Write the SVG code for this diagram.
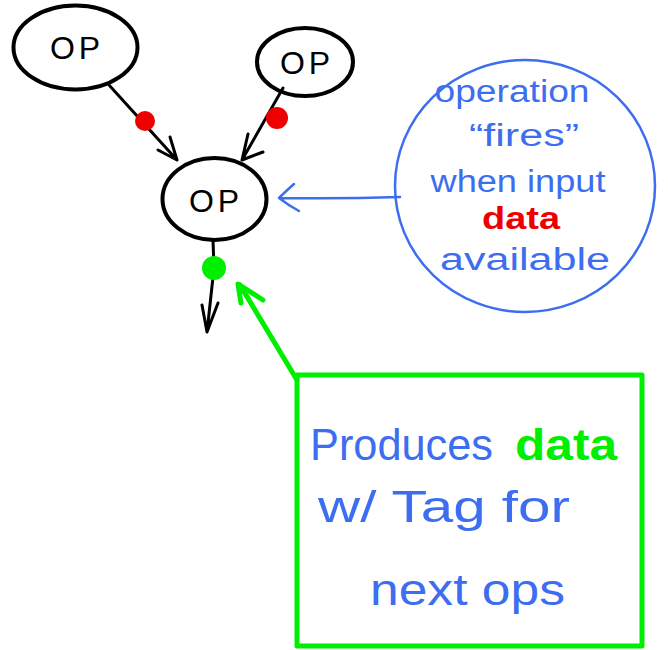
<svg xmlns="http://www.w3.org/2000/svg" width="668" height="650" viewBox="0 0 668 650">
  <defs>
    <style>
      .node { fill: #ffffff; stroke: #000000; stroke-width: 4; }
      .op { font-family: "Liberation Sans", "DejaVu Sans", sans-serif; font-size: 32px; fill: #000000; text-anchor: middle; letter-spacing: 4px; }
      .edge { fill: none; stroke: #000000; stroke-width: 3; stroke-linecap: round; stroke-linejoin: round; }
      .note-blue { fill: none; stroke: #3d6df0; stroke-width: 2.5; stroke-linecap: round; stroke-linejoin: round; }
      .note-green { fill: none; stroke: #00ee00; stroke-width: 5; stroke-linecap: round; stroke-linejoin: round; }
      .hand { font-family: "Liberation Sans", "DejaVu Sans", sans-serif; fill: #3d6df0; }
      .c1 { font-size: 31px; }
      .c2 { font-size: 44px; }
    </style>
  </defs>

  <!-- operation nodes -->
  <g id="op-left">
    <ellipse class="node" cx="75.5" cy="47.5" rx="62" ry="42"/>
    <text class="op" x="77" y="59">OP</text>
  </g>
  <g id="op-right">
    <ellipse class="node" cx="305" cy="62" rx="48" ry="34"/>
    <text class="op" x="307" y="74">OP</text>
  </g>
  <g id="op-center">
    <ellipse class="node" cx="214.5" cy="199" rx="52" ry="41"/>
    <text class="op" x="216" y="212">OP</text>
  </g>

  <!-- connectors with data tokens -->
  <g id="connectors">
    <path class="edge" d="M109,85 L177,160 M170,137 L177,160 L158,150"/>
    <path class="edge" d="M283,88 L242,160 M248,134 L242,160 L263,152"/>
    <path class="edge" d="M213,240 L214,268 L207,332 M202,305 L207,332 L218,303"/>
    <circle cx="145" cy="121" r="10" fill="#ee0000"/>
    <circle cx="277" cy="118" r="11" fill="#ee0000"/>
    <circle cx="214" cy="268" r="12" fill="#00ee00"/>
  </g>

  <!-- firing rule note -->
  <g id="note-fires">
    <ellipse class="note-blue" cx="525" cy="186" rx="130" ry="126"/>
    <path class="note-blue" d="M400,197 Q340,199 279,198 M294,184 Q285,192 279,198 Q288,205 299,211"/>
    <text class="hand c1" x="512" y="102" text-anchor="middle" textLength="155" lengthAdjust="spacingAndGlyphs">operation</text>
    <text class="hand c1" x="524" y="146" text-anchor="middle" textLength="110" lengthAdjust="spacingAndGlyphs">“fires”</text>
    <text class="hand c1" x="518" y="192" text-anchor="middle" textLength="175" lengthAdjust="spacingAndGlyphs">when input</text>
    <text class="hand c1" x="521" y="229" text-anchor="middle" font-weight="bold" textLength="78" lengthAdjust="spacingAndGlyphs" style="fill:#ee0000">data</text>
    <text class="hand c1" x="525" y="270" text-anchor="middle" textLength="170" lengthAdjust="spacingAndGlyphs">available</text>
  </g>

  <!-- output note -->
  <g id="note-produces">
    <rect class="note-green" x="297" y="375" width="345" height="271"/>
    <path class="note-green" d="M297,380 L240,285 M241,303 L238,284 L263,300"/>
    <text class="hand c2" x="310" y="460" textLength="183" lengthAdjust="spacingAndGlyphs">Produces</text>
    <text class="hand c2" x="515" y="460" font-weight="bold" textLength="102" lengthAdjust="spacingAndGlyphs" style="fill:#00ee00">data</text>
    <text class="hand c2" x="318" y="522" textLength="252" lengthAdjust="spacingAndGlyphs">w/ Tag for</text>
    <text class="hand c2" x="370" y="605" textLength="195" lengthAdjust="spacingAndGlyphs">next ops</text>
  </g>
</svg>
